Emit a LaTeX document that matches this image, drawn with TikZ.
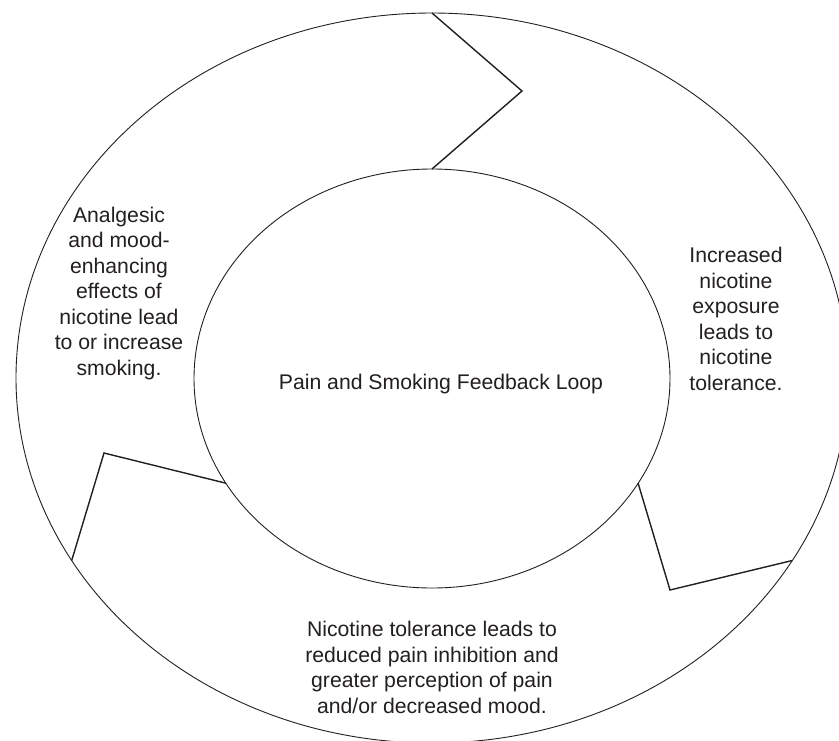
\documentclass[tikz,border=0pt]{standalone}
\usepackage{fontspec}
\setmainfont{Liberation Sans}
\usetikzlibrary{shapes.geometric}
\definecolor{ink}{HTML}{231F20}
\tikzset{
  ring/.style={ellipse, draw=ink, line width=0.9pt, inner sep=0pt, outer sep=0pt},
  zig/.style={draw=ink, line width=1.4pt, line join=miter},
  lbl/.style={text=ink, align=center, inner sep=0pt, font=\fontsize{21.2}{25.5}\selectfont}
}
\begin{document}
\begin{tikzpicture}[x=1pt,y=-1pt]
\useasboundingbox (0,0) rectangle (839,740);
\clip (0,0) rectangle (839,740);
\fill[white] (0,0) rectangle (839,740);
\node[ring, minimum width=832pt, minimum height=730pt] (outer) at (432,378) {};
\node[ring, minimum width=476pt, minimum height=419pt] (inner) at (432,378.5) {};
% zigzag end points
\coordinate (oR) at (792.3,560.5);
\coordinate (iR) at (638.1,483.2);
\coordinate (oL) at (71.7,560.5);
\coordinate (iL) at (225.9,483.2);
\coordinate (mT) at (522,91);
\coordinate (mR) at (670,590);
\coordinate (mL) at (104,453);
\draw[zig] (outer.north) -- (mT) -- (inner.north);
\draw[zig] (iR) -- (mR) -- (oR);
\draw[zig] (oL) -- (mL) -- (iL);
% texts
\node[lbl, anchor=base] (title) at (441,389) {Pain and Smoking Feedback Loop};
\node[lbl, anchor=north] (left) at (119,206.5) {Analgesic\\and mood-\\enhancing\\effects of\\nicotine lead\\to or increase\\smoking.};
\node[lbl, anchor=north] (right) at (736,247) {Increased\\nicotine\\exposure\\leads to\\nicotine\\tolerance.};
\node[lbl, anchor=north] (bottom) at (432,621) {Nicotine tolerance leads to\\reduced pain inhibition and\\greater perception of pain\\and/or decreased mood.};
\end{tikzpicture}
\end{document}
